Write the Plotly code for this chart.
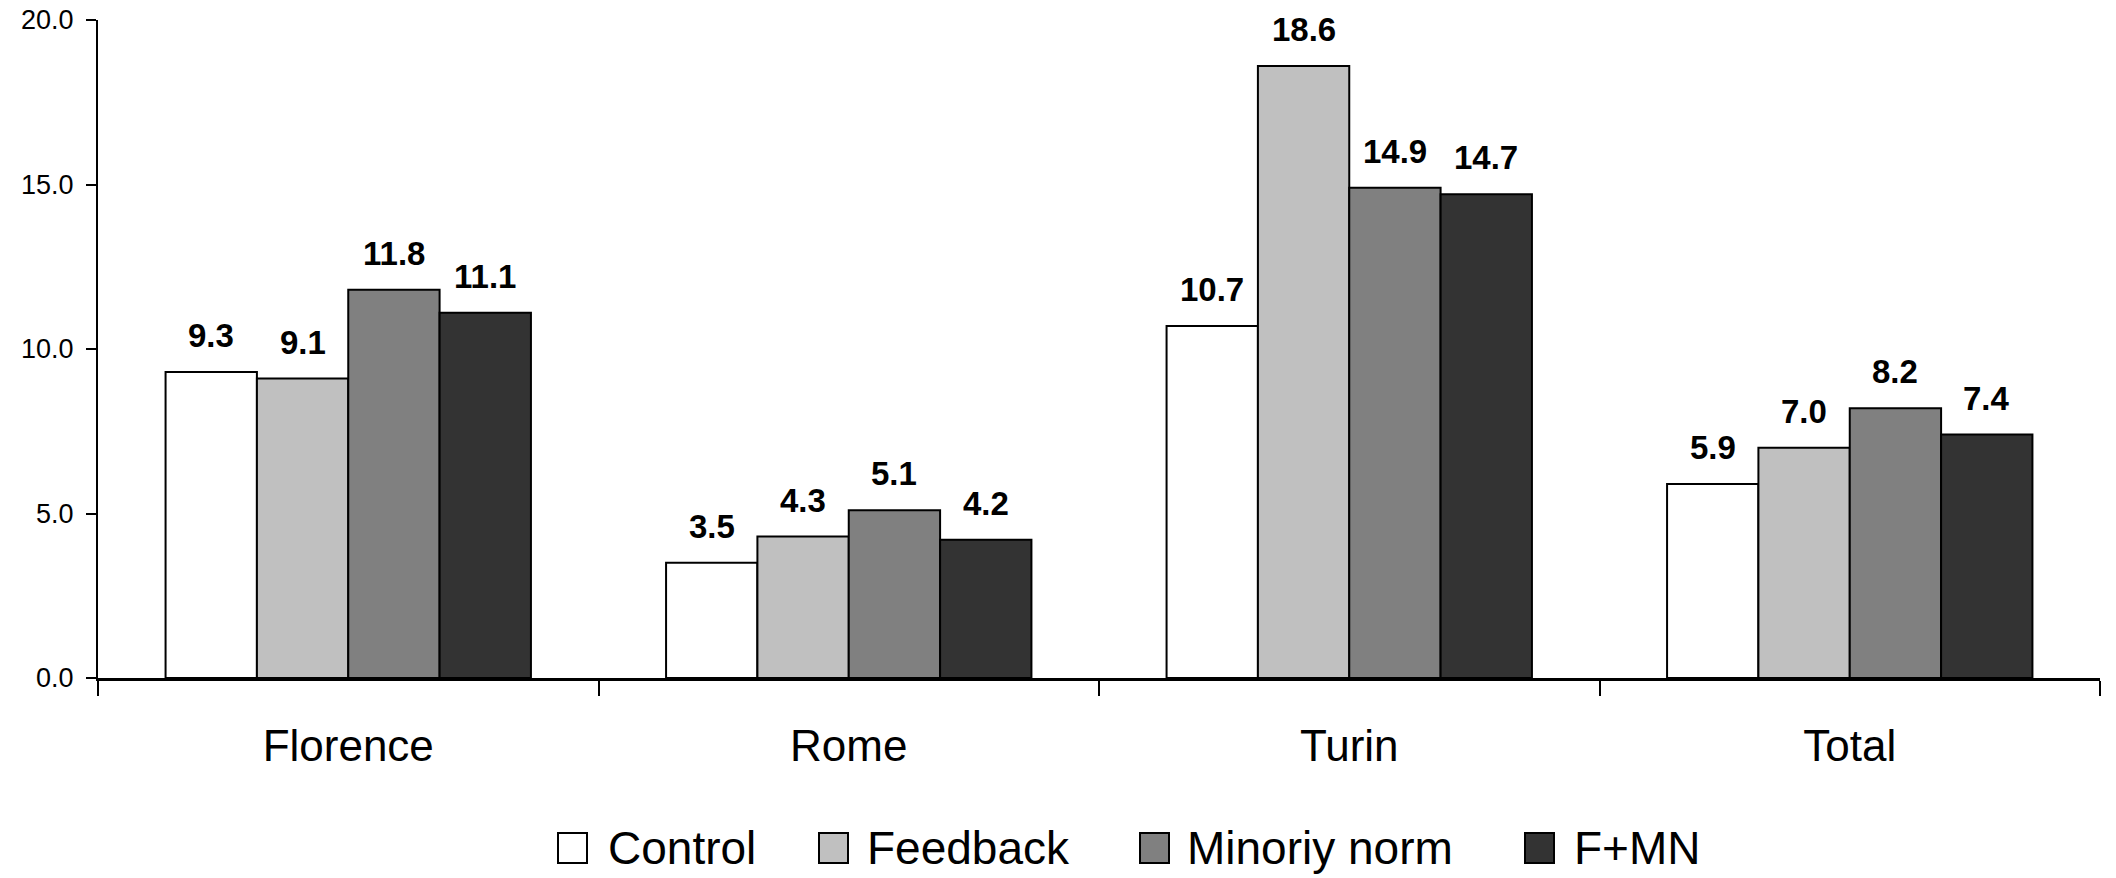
import plotly.graph_objects as go

# ---- data ----
cities = ["Florence", "Rome", "Turin", "Total"]
series_names = ["Control", "Feedback", "Minoriy norm", "F+MN"]
control = [9.3, 3.5, 10.7, 5.9]
feedback = [9.1, 4.3, 18.6, 7.0]
minority_norm = [11.8, 5.1, 14.9, 8.2]
f_mn = [11.1, 4.2, 14.7, 7.4]
y_ticks = [0, 5, 10, 15, 20]

series_values = [control, feedback, minority_norm, f_mn]
fills = ["#ffffff", "#c0c0c0", "#808080", "#333333"]

W, H = 2116, 878
ML, MR, MT, MB = 98, 16, 20, 200
BARGAP = 0.27
FONT = "Liberation Sans, Arial, Helvetica, sans-serif"

fig = go.Figure()
for name, vals, col in zip(series_names, series_values, fills):
    fig.add_trace(go.Bar(
        x=cities, y=vals, name=name,
        marker=dict(color=col, line=dict(color="#000000", width=2)),
        showlegend=False,
    ))

# value labels above each bar
n = len(series_names)
bw = (1 - BARGAP) / n
for j, vals in enumerate(series_values):
    for i, v in enumerate(vals):
        fig.add_annotation(
            x=i + (j - (n - 1) / 2) * bw, y=v, xref="x", yref="y",
            text=f"<b>{v:.1f}</b>", showarrow=False,
            yanchor="bottom", xanchor="center", yshift=16,
            font=dict(family=FONT, size=33, color="#000000"),
        )

# legend drawn as boxes + labels below the plot
plot_w = W - ML - MR
plot_h = H - MT - MB
def px_x(p):
    return (p - ML) / plot_w
def px_y(p):
    return (H - MB - p) / plot_h

legend_box_left = [558, 819, 1140, 1525]
legend_text_left = [606, 865, 1185, 1572]
legend_cy = 848
for name, col, bx, tx in zip(series_names, fills, legend_box_left, legend_text_left):
    fig.add_shape(
        type="rect", xref="paper", yref="paper",
        x0=px_x(bx), x1=px_x(bx + 29), y0=px_y(legend_cy - 15), y1=px_y(legend_cy + 15),
        fillcolor=col, line=dict(color="#000000", width=2),
    )
    fig.add_annotation(
        x=px_x(tx), y=px_y(legend_cy), xref="paper", yref="paper",
        text=name, showarrow=False, xanchor="left", yanchor="middle",
        font=dict(family=FONT, size=46, color="#000000"),
    )

fig.update_layout(
    width=W, height=H,
    margin=dict(l=ML, r=MR, t=MT, b=MB, autoexpand=False),
    paper_bgcolor="#ffffff", plot_bgcolor="#ffffff",
    barmode="group", bargap=BARGAP, bargroupgap=0,
    font=dict(family=FONT, color="#000000"),
    showlegend=False,
)
fig.update_xaxes(
    automargin=False,
    showline=True, linecolor="#000000", linewidth=3,
    ticks="outside", tickson="boundaries", ticklen=15, tickwidth=2, tickcolor="#000000",
    tickfont=dict(family=FONT, size=44, color="#000000"),
    ticklabelstandoff=27, showgrid=False, zeroline=False,
)
fig.update_yaxes(
    automargin=False,
    range=[0, 20], tickvals=y_ticks, tickformat=".1f",
    showline=True, linecolor="#000000", linewidth=2,
    ticks="outside", ticklen=10, tickwidth=2, tickcolor="#000000",
    tickfont=dict(family=FONT, size=27, color="#000000"),
    ticklabelstandoff=7, showgrid=False, zeroline=False,
)

fig.write_html("out.html")
